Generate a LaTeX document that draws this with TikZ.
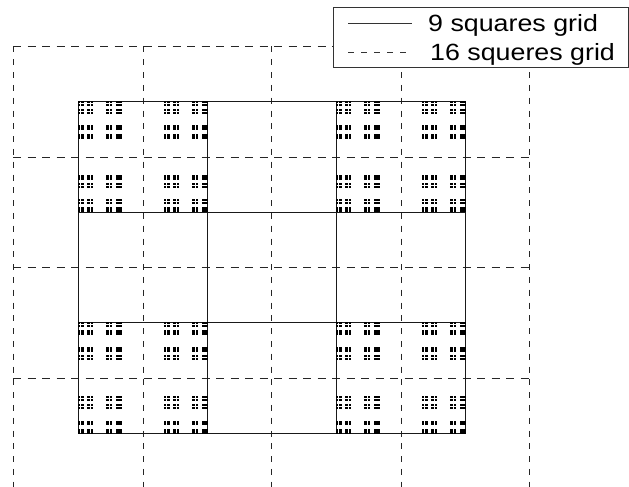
\documentclass[tikz,border=0pt]{standalone}
\usepackage{fontspec}
\setmainfont{Liberation Sans}
\tikzset{
  solidgrid/.style={color=black!90,line width=1pt},
  dashgridh/.style={color=black!85,line width=1pt,dash pattern=on 8pt off 6.5pt},
  dashgridv/.style={color=black!85,line width=1pt,dash pattern=on 6pt off 6.8pt},
  legendline/.style={color=black!80,line width=0.7pt},
  legendtext/.style={font=\fontsize{23.5}{23.5}\selectfont,anchor=base west,inner sep=0pt,xscale=1.14,transform shape}
}
\begin{document}
\begin{tikzpicture}[x=1pt,y=-1pt]
  \useasboundingbox (0,0) rectangle (629,487);
  % 16 squares
  \foreach \xgrid in {13,143,271,401,529}
    \draw[dashgridv] (\xgrid,46.5) -- (\xgrid,487);
  \foreach \ygrid in {46.5,157,267,378}
    \draw[dashgridh] (13,\ygrid) -- (529,\ygrid);
  % 9 squares
  \foreach \xgrid in {78,207,336,465}
    \draw[solidgrid] (\xgrid,101) -- (\xgrid,433);
  \foreach \ygrid in {101,212,322,433}
    \draw[solidgrid] (78,\ygrid) -- (465,\ygrid);
  % dust
  \foreach \a in {0,2} \foreach \b in {0,2} \foreach \c in {0,2} \foreach \d in {0,2} \foreach \e in {0,2}
    \foreach \f in {0,2} \foreach \g in {0,2} \foreach \h in {0,2} \foreach \i in {0,2} \foreach \j in {0,2}
      \fill[black] ({77.8+\a*129+\c*43+\e*14.33+\g*4.78+\i*1.59},{100.8+\b*110.67+\d*36.89+\f*12.3+\h*4.1+\j*1.37}) rectangle +(2.55,2.2);
  % legend
  \node[draw=black!80,fill=white,line width=1pt,minimum width=295pt,minimum height=60pt,inner sep=0pt] (legend) at (480.5,38) {};
  \coordinate (a1) at (348,23);
  \coordinate (a2) at (412,23);
  \coordinate (b1) at (348,52);
  \coordinate (b2) at (412,52);
  \draw[legendline] (a1) -- (a2);
  \draw[legendline,dash pattern=on 6pt off 7pt] (b1) -- (b2);
  \node[legendtext] (nine) at (428,32) {9 squares grid};
  \node[legendtext] (sixteen) at (430,61) {16 squeres grid};
\end{tikzpicture}
\end{document}
